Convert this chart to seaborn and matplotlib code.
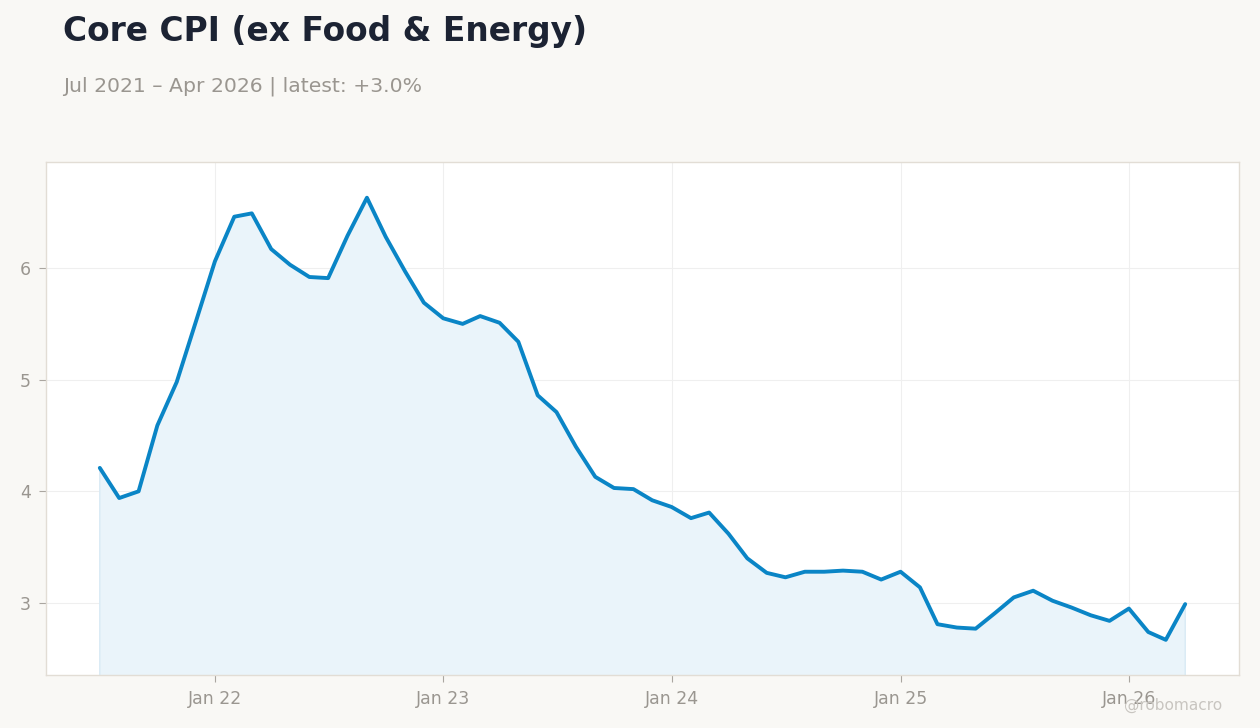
import matplotlib
matplotlib.use("Agg")
import matplotlib.pyplot as plt
import matplotlib.dates as mdates
import seaborn as sns
import pandas as pd
import numpy as np

start_month = "2021-07-01"
values = [4.21, 3.94, 4.00, 4.59, 4.98, 5.51, 6.06, 6.46, 6.49, 6.17, 6.03, 5.92,
          5.91, 6.29, 6.63, 6.28, 5.97, 5.69, 5.55, 5.50, 5.57, 5.51, 5.34, 4.86,
          4.71, 4.40, 4.13, 4.03, 4.02, 3.92, 3.86, 3.76, 3.81, 3.62, 3.40, 3.27,
          3.23, 3.28, 3.28, 3.29, 3.28, 3.21, 3.28, 3.14, 2.81, 2.78, 2.77, 2.91,
          3.05, 3.11, 3.02, 2.96, 2.89, 2.84, 2.95, 2.74, 2.67, 2.99]
dates = pd.date_range(start_month, periods=len(values), freq="MS")
df = pd.DataFrame({"date": dates, "value": values})

title = "Core CPI (ex Food & Energy)"
subtitle = "Jul 2021 \u2013 Apr 2026 | latest: +3.0%"
watermark = "@robomacro"

bg = "#F9F8F5"
line_color = "#0A85C6"

sns.set_theme(style="white")
plt.rcParams["font.family"] = ["DejaVu Sans"]

fig = plt.figure(figsize=(12.6, 7.28), dpi=100, facecolor=bg)
ax = fig.add_axes([46/1260, 1-675/728, (1239-46)/1260, (675-162)/728])
ax.set_facecolor("white")

ax.fill_between(df["date"], df["value"], 0, color="#EAF4FA", edgecolor="#D8EAF5", linewidth=1, zorder=1)
sns.lineplot(data=df, x="date", y="value", ax=ax, color=line_color, linewidth=2.8, zorder=3)

ax.set_ylim(2.355, 6.95)
pad = pd.Timedelta(days=86)
ax.set_xlim(dates[0] - pad, dates[-1] + pad)
ax.set_yticks([3, 4, 5, 6])
ax.xaxis.set_major_locator(mdates.YearLocator(month=1))
ax.xaxis.set_major_formatter(mdates.DateFormatter("Jan %y"))
ax.set_xlabel("")
ax.set_ylabel("")

ax.grid(True, color="#EFEFEF", linewidth=0.8, zorder=0)
ax.set_axisbelow(True)
for s in ax.spines.values():
    s.set_color("#E2DDD5")
    s.set_linewidth(1)
ax.tick_params(axis="both", which="major", length=5, width=0.8, color="#AAA6A0",
               labelcolor="#9A9690", labelsize=12.5, pad=6, bottom=True, left=True)

fig.text(63/1260, 1-31/728, title, fontsize=23.7, fontweight="bold", color="#1C2333",
         ha="left", va="center")
fig.text(63/1260, 1-86/728, subtitle, fontsize=14.65, color="#9A9690", ha="left", va="center")
fig.text(1222/1260, 1-705/728, watermark, fontsize=11.1, color="#C8C5C0", ha="right", va="center")

fig.savefig("out.png", dpi=100, facecolor=bg)
